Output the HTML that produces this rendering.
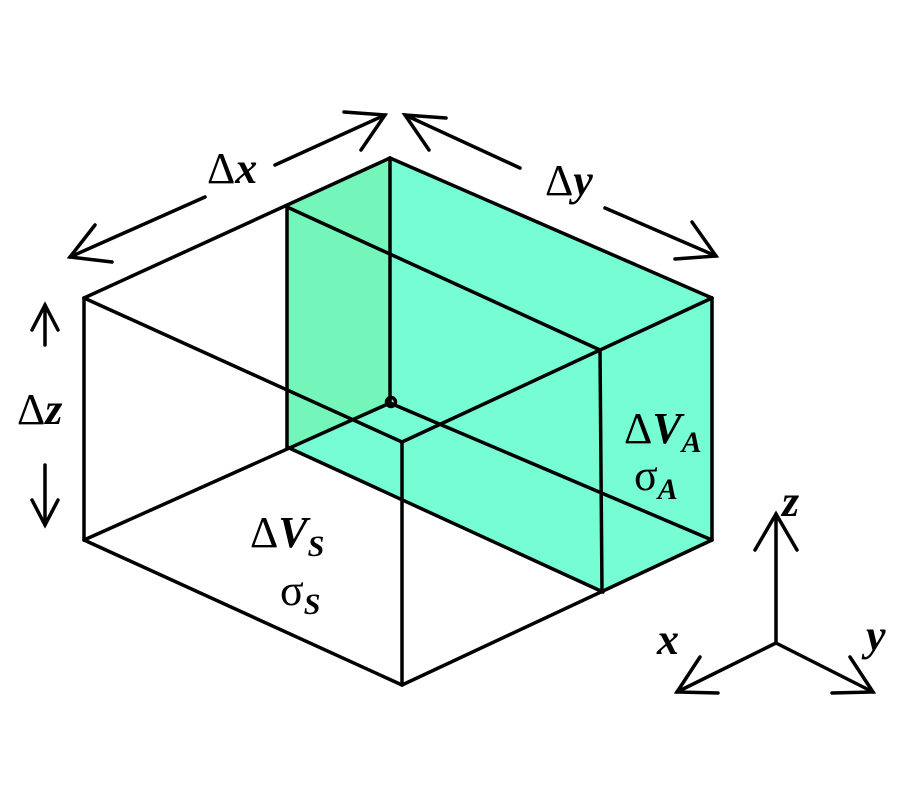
<!DOCTYPE html>
<html><head><style>body{margin:0;background:#fff}svg{display:block}text{font-family:"Liberation Serif","DejaVu Serif",serif}</style></head><body>
<svg width="900" height="800" viewBox="0 0 900 800" xmlns="http://www.w3.org/2000/svg">
<polygon points="287,207 390,158 712,298 712,540 603,592 287,447" fill="#76fdd4"/>
<polygon points="287,207 390,158 390,403 287,447" fill="#74f5ba"/>
<g stroke="#000" stroke-width="3.5" fill="none" stroke-linecap="round">
<line x1="84" y1="298" x2="390" y2="158"/>
<line x1="390" y1="158" x2="712" y2="298"/>
<line x1="84" y1="298" x2="84" y2="540"/>
<line x1="712" y1="298" x2="712" y2="540"/>
<line x1="84" y1="540" x2="402" y2="685"/>
<line x1="402" y1="685" x2="712" y2="540"/>
<line x1="402" y1="442" x2="402" y2="685"/>
<line x1="84" y1="298" x2="402" y2="442"/>
<line x1="402" y1="442" x2="712" y2="298"/>
<line x1="390" y1="158" x2="390" y2="403"/>
<line x1="84" y1="540" x2="390" y2="403"/>
<line x1="390" y1="403" x2="712" y2="540"/>
<line x1="287" y1="207" x2="287" y2="447"/>
<line x1="287" y1="207" x2="600" y2="350"/>
<line x1="600" y1="350" x2="602" y2="592"/>
<line x1="287" y1="447" x2="603" y2="592"/>
<circle cx="391" cy="402" r="4.5"/>
<line x1="70" y1="257" x2="205" y2="197"/><line x1="275" y1="165" x2="385" y2="115"/>
<polyline points="95,225 70,257 112,262"/><polyline points="344,112 385,115 361,150"/>
<line x1="405" y1="115" x2="520" y2="168"/><line x1="605" y1="208" x2="716" y2="256"/>
<polyline points="446,118 405,115 429,150"/><polyline points="675,259 716,256 692,222"/>
<line x1="45" y1="305" x2="45" y2="345"/><line x1="45" y1="465" x2="45" y2="525"/>
<polyline points="32,330 45,305 58,330"/><polyline points="32,500 45,525 58,500"/>
<line x1="776" y1="643" x2="776" y2="514"/><polyline points="755,550 776,514 797,550"/>
<line x1="776" y1="643" x2="677" y2="692"/><polyline points="700,657 677,692 718,693"/>
<line x1="776" y1="643" x2="873" y2="692"/><polyline points="850,657 873,692 832,693"/>
</g>
<g font-size="44" fill="#000">
<text x="207" y="183">Δ<tspan font-weight="bold" font-style="italic">x</tspan></text>
<text x="545" y="195">Δ<tspan font-weight="bold" font-style="italic">y</tspan></text>
<text x="17" y="424">Δ<tspan font-weight="bold" font-style="italic">z</tspan></text>
<text x="624" y="443">Δ<tspan font-weight="bold" font-style="italic">V</tspan><tspan font-size="30" font-weight="bold" font-style="italic" dy="9">A</tspan></text>
<text x="634" y="490">σ<tspan font-size="30" font-weight="bold" font-style="italic" dy="9">A</tspan></text>
<text x="250" y="547">Δ<tspan font-weight="bold" font-style="italic">V</tspan><tspan font-size="30" font-weight="bold" font-style="italic" dy="9">S</tspan></text>
<text x="280" y="605">σ<tspan font-size="30" font-weight="bold" font-style="italic" dy="9">S</tspan></text>
<text x="782" y="516" font-weight="bold" font-style="italic">z</text>
<text x="657" y="654" font-weight="bold" font-style="italic">x</text>
<text x="866" y="650" font-weight="bold" font-style="italic">y</text>
</g>
</svg>
</body></html>
